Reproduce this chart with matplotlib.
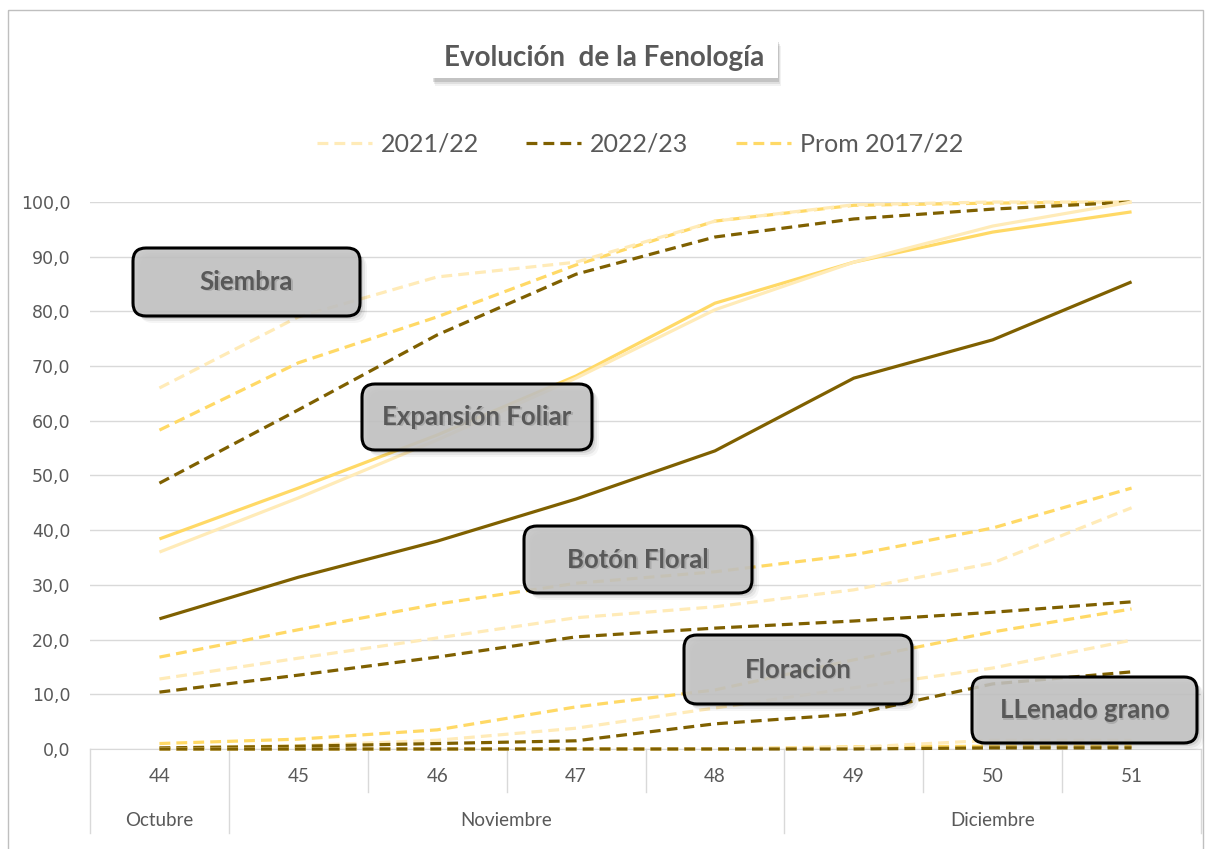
import matplotlib.pyplot as plt
import matplotlib.transforms as mtransforms
from matplotlib.patches import FancyBboxPatch, Rectangle
from matplotlib.lines import Line2D

# semanas y meses del eje x
weeks = ['44', '45', '46', '47', '48', '49', '50', '51']
months = ['Octubre', 'Noviembre', 'Diciembre']
month_spans = [(0, 0), (1, 4), (5, 7)]

# % de avance por etapa (2021/22, 2022/23, Prom 2017/22)
siembra_2122 = [66.0, 79.0, 86.3, 89.0, 96.5, 99.5, 100.0, 100.0]
siembra_2223 = [48.6, 62.0, 75.7, 86.8, 93.6, 96.9, 98.7, 100.0]
siembra_prom = [58.3, 70.6, 79.0, 88.5, 96.5, 99.4, 99.8, 100.0]

expansion_2122 = [36.0, 45.9, 56.5, 67.8, 80.3, 89.0, 95.6, 100.0]
expansion_2223 = [23.8, 31.4, 38.0, 45.7, 54.5, 67.8, 74.8, 85.4]
expansion_prom = [38.4, 47.7, 57.4, 68.2, 81.5, 89.0, 94.5, 98.2]

boton_2122 = [12.8, 16.6, 20.3, 24.0, 26.0, 29.1, 34.0, 44.1]
boton_2223 = [10.4, 13.5, 16.8, 20.5, 22.1, 23.4, 25.0, 26.9]
boton_prom = [16.8, 21.8, 26.5, 30.3, 32.4, 35.5, 40.4, 47.7]

floracion_2122 = [0.2, 0.6, 1.6, 3.8, 7.5, 11.2, 14.8, 19.9]
floracion_2223 = [0.2, 0.5, 1.0, 1.5, 4.6, 6.4, 11.9, 14.1]
floracion_prom = [1.0, 1.8, 3.5, 7.7, 10.8, 16.3, 21.4, 25.6]

llenado_2122 = [0.0, 0.0, 0.0, 0.0, 0.0, 0.3, 1.6, 1.6]
llenado_2223 = [0.0, 0.0, 0.0, 0.0, 0.0, 0.0, 0.2, 0.2]
llenado_prom = [0.0, 0.0, 0.0, 0.0, 0.0, 0.4, 0.5, 0.5]

stage_labels = ['Siembra', 'Expansión Foliar', 'Botón Floral', 'Floración', 'LLenado grano']
series_labels = ['2021/22', '2022/23', 'Prom 2017/22']

c_pale = '#FFEBB8'
c_dark = '#7F6000'
c_gold = '#FFD966'
txt = '#595959'

W, H = 1205, 849
fig = plt.figure(figsize=(W / 100, H / 100), dpi=100)
# pixel coords (origen arriba-izquierda)
px = mtransforms.Affine2D().scale(1 / W, -1 / H).translate(0, 1) + fig.transFigure

ax = fig.add_axes([90 / W, (H - 749) / H, (1201 - 90) / W, (749 - 202) / H])
x = list(range(len(weeks)))

lw = 2.3
dash = (3.4, 1.9)
stages = [
    (siembra_2122, siembra_2223, siembra_prom, '--'),
    (expansion_2122, expansion_2223, expansion_prom, '-'),
    (boton_2122, boton_2223, boton_prom, '--'),
    (floracion_2122, floracion_2223, floracion_prom, '--'),
    (llenado_2122, llenado_2223, llenado_prom, '--'),
]
for a, b, p, ls in stages:
    for vals, col in [(p, c_gold), (a, c_pale), (b, c_dark)]:
        line, = ax.plot(x, vals, color=col, lw=lw, ls=ls, solid_capstyle='butt',
                        dash_capstyle='butt', clip_on=False, zorder=3)
        if ls == '--':
            line.set_dashes(dash)

ax.set_xlim(-0.5, len(weeks) - 0.5)
ax.set_ylim(0, 100)
ax.set_yticks(range(0, 101, 10))
ax.set_yticklabels([f'{v},0' for v in range(0, 101, 10)], color=txt, fontsize=12.5)
ax.tick_params(axis='y', length=0, pad=14)
ax.set_xticks([])
ax.grid(axis='y', color='#d9d9d9', lw=1)
ax.set_axisbelow(True)
for s in ['top', 'right', 'left']:
    ax.spines[s].set_visible(False)
ax.spines['bottom'].set_color('#d9d9d9')

# eje de categorias en dos niveles
tr = ax.get_xaxis_transform()
for i, w in enumerate(weeks):
    ax.text(i, -0.051, w, transform=tr, ha='center', va='center', fontsize=13.5,
            color=txt, family='Lato')
month_edges = [s for s, e in month_spans] + [len(weeks)]
for i in range(len(weeks) + 1):
    y1 = -0.154 if i in month_edges else -0.078
    ax.plot([i - 0.5, i - 0.5], [0, y1], transform=tr, color='#d9d9d9', lw=1, clip_on=False)
for m, (s, e) in zip(months, month_spans):
    ax.text((s + e) / 2, -0.130, m, transform=tr, ha='center', va='center', fontsize=13.5,
            color=txt, family='Lato')

# marco exterior
fig.patches.append(Rectangle((8, 10), 1195, 845, transform=px, fill=False,
                             edgecolor='#bfbfbf', lw=1, zorder=0))

# titulo
for k, al in [(6, 0.05), (4, 0.08), (2, 0.12)]:
    fig.patches.append(Rectangle((432 + k / 2, 40 + k), 346, 40, transform=px,
                                 facecolor='#000000', alpha=al, edgecolor='none', zorder=4))
fig.patches.append(Rectangle((430, 38), 348, 40, transform=px, facecolor='white',
                             edgecolor='none', zorder=4.5))
fig.text(604 / W, 1 - 58 / H, 'Evolución  de la Fenología', ha='center', va='center',
         fontsize=20, fontweight='bold', color=txt, family='Lato', zorder=5)

# leyenda
handles = [Line2D([0], [0], color=c, lw=lw, ls=(0, dash)) for c in (c_pale, c_dark, c_gold)]
fig.legend(handles, series_labels, loc='center', bbox_to_anchor=(640 / W, 1 - 144 / H),
           ncol=3, frameon=False, handlelength=2.2, columnspacing=1.9,
           handletextpad=0.35, labelcolor=txt, prop={'family': 'Lato', 'size': 18})

# recuadros de etapas
boxes = [(133, 248, 227, 68), (362, 384, 230, 66), (524, 526, 228, 67),
         (684, 635, 228, 69), (972, 677, 225, 66)]
for lab, (bx, by, bw, bh) in zip(stage_labels, boxes):
    for k, al in [(7, 0.04), (5, 0.06), (3, 0.09)]:
        fig.patches.append(FancyBboxPatch((bx + k, by + k), bw, bh, transform=px,
                                          boxstyle='round,pad=0,rounding_size=13',
                                          facecolor='black', alpha=al, edgecolor='none',
                                          zorder=5))
    fig.patches.append(FancyBboxPatch((bx, by), bw, bh, transform=px,
                                      boxstyle='round,pad=0,rounding_size=13',
                                      facecolor='#c4c4c4', alpha=0.88, edgecolor='none',
                                      zorder=5.5))
    fig.patches.append(FancyBboxPatch((bx, by), bw, bh, transform=px,
                                      boxstyle='round,pad=0,rounding_size=13',
                                      facecolor='none', edgecolor='black', lw=2.2,
                                      zorder=5.6))
    fig.text((bx + bw / 2 + 1.5) / W, 1 - (by + bh / 2 + 1.5) / H, lab, ha='center',
             va='center', fontsize=18.5, fontweight='bold', color='#9a9a9a',
             family='Lato', zorder=5.8, alpha=0.6)
    fig.text((bx + bw / 2) / W, 1 - (by + bh / 2) / H, lab, ha='center', va='center',
             fontsize=18.5, fontweight='bold', color=txt, family='Lato', zorder=6)

fig.savefig('out.png', dpi=100)
